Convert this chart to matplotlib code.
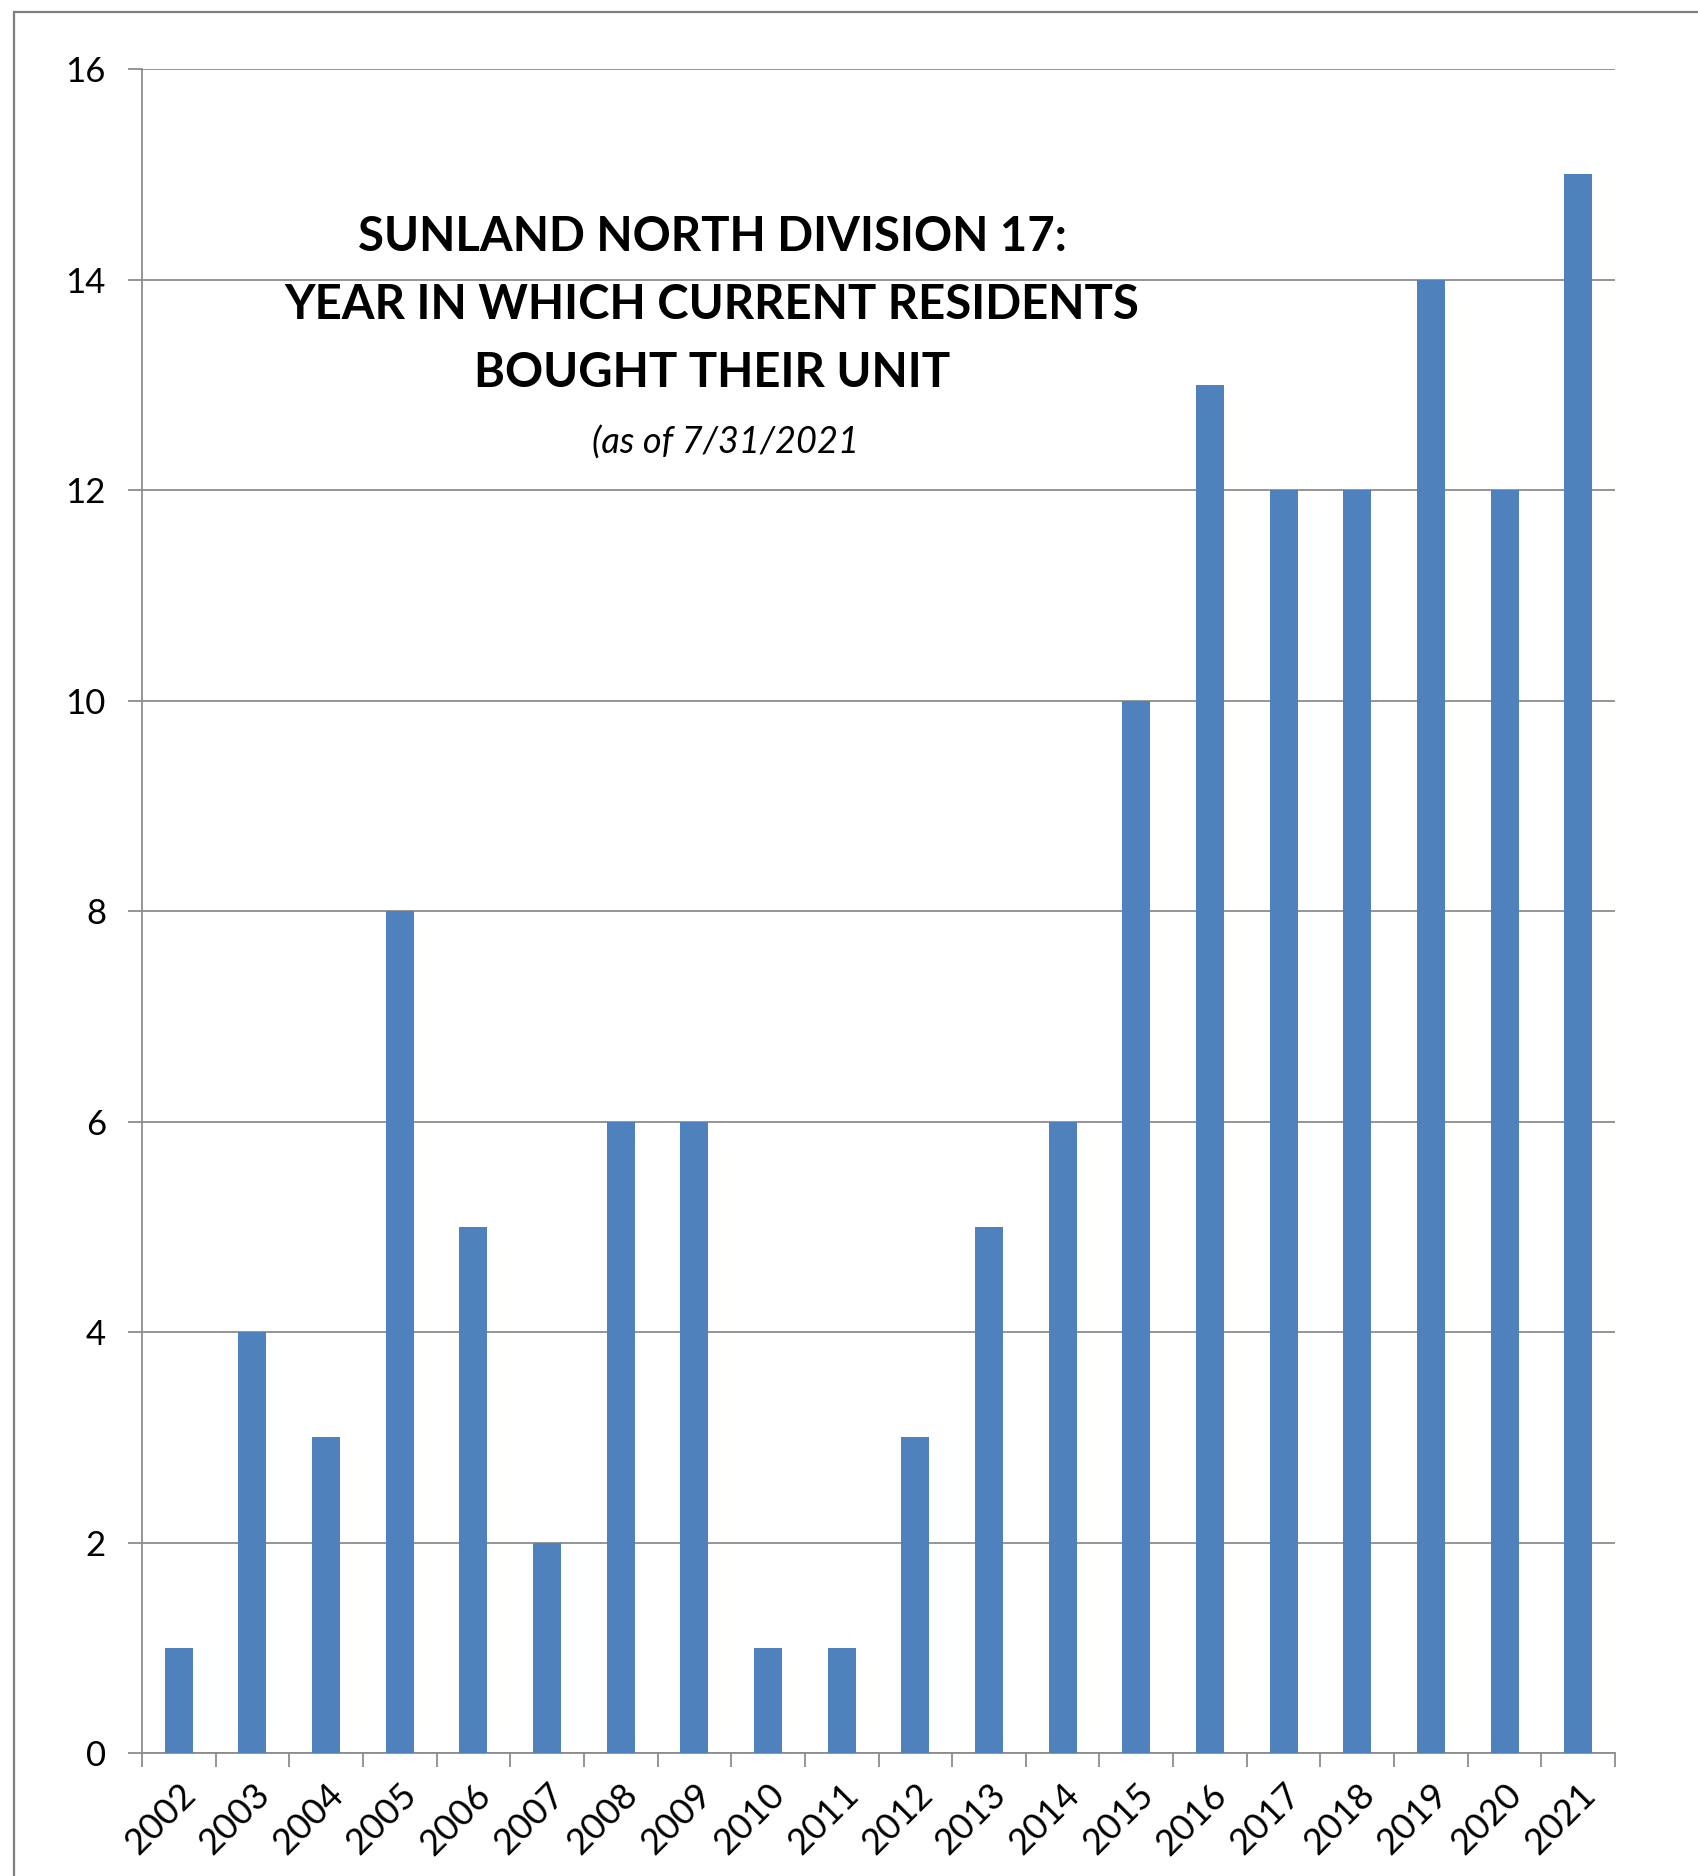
import matplotlib
matplotlib.use("Agg")
import matplotlib.pyplot as plt
from matplotlib.patches import Rectangle
import numpy as np

# data
years = ['2002', '2003', '2004', '2005', '2006', '2007', '2008', '2009', '2010', '2011',
         '2012', '2013', '2014', '2015', '2016', '2017', '2018', '2019', '2020', '2021']
units_bought = [1, 4, 3, 8, 5, 2, 6, 6, 1, 1, 3, 5, 6, 10, 13, 12, 12, 14, 12, 15]
y_ticks = [0, 2, 4, 6, 8, 10, 12, 14, 16]

title_lines = ['SUNLAND NORTH DIVISION 17:',
               'YEAR IN WHICH CURRENT RESIDENTS',
               'BOUGHT THEIR UNIT']
subtitle = '(as of 7/31/2021'

W, H = 1698, 1876
plt.rcParams['font.family'] = ['Lato', 'DejaVu Sans']
fig = plt.figure(figsize=(W / 100, H / 100), dpi=100)

# chart area border
fig.add_artist(Rectangle((14 / W, -0.1), 1.2, 1 - 12 / H + 0.1, transform=fig.transFigure,
                         fill=False, edgecolor='#7f7f7f', linewidth=1.6))

ax = fig.add_axes([142 / W, (H - 1753) / H, (1615 - 142) / W, (1753 - 69) / H])
x = np.arange(len(years))
ax.bar(x, units_bought, width=0.38, color='#4F81BD', zorder=3)

ax.set_xlim(-0.5, len(years) - 0.5)
ax.set_ylim(0, 16)
ax.set_yticks(y_ticks)
ax.yaxis.grid(True, color='#8c8c8c', linewidth=1.3, zorder=0)
for s in ['top', 'right']:
    ax.spines[s].set_visible(False)
for s in ['left', 'bottom']:
    ax.spines[s].set_color('#8c8c8c')
    ax.spines[s].set_linewidth(1.3)

ax.tick_params(axis='y', length=10, width=1.3, color='#8c8c8c', labelsize=25, pad=16)
ax.set_xticks(x)
ax.set_xticklabels(years, rotation=45, ha='right', va='top', rotation_mode='anchor', fontsize=26)
ax.tick_params(axis='x', length=0, pad=18)
ax.set_xticks(np.arange(-0.5, len(years)), minor=True)
ax.tick_params(axis='x', which='minor', length=10, width=1.3, color='#8c8c8c')

title_y = [1 - 237 / H, 1 - 305 / H, 1 - 373 / H]
for line, ty in zip(title_lines, title_y):
    fig.text(712 / W, ty, line, ha='center', va='center', fontsize=34, fontweight='bold')
fig.text(725 / W, 1 - 443 / H, subtitle, ha='center', va='center', fontsize=26, style='italic')

fig.savefig('out.png', dpi=100)
